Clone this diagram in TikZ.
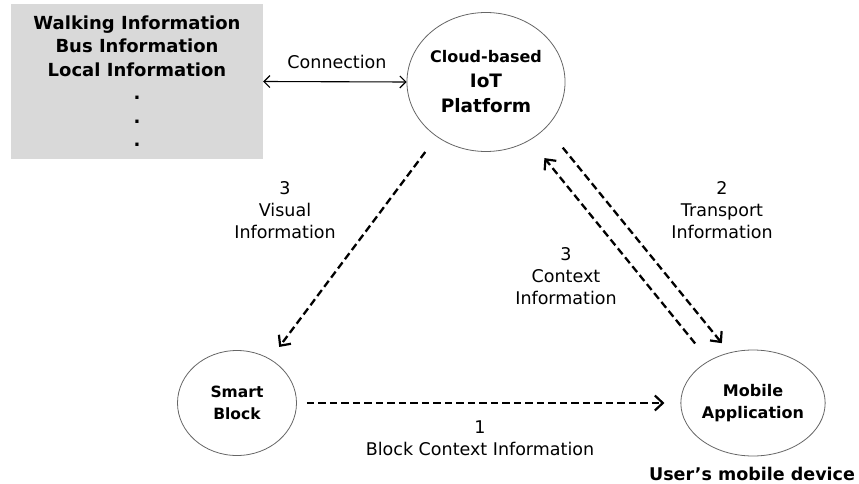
\documentclass[tikz,border=0pt]{standalone}
\usepackage{fontspec}
\setmainfont{DejaVu Sans}
\usetikzlibrary{shapes.geometric,arrows.meta}
\begin{document}
\begin{tikzpicture}[x=1pt,y=-1pt,
  bub/.style={ellipse,draw=black!60,line width=0.8pt,inner sep=0pt,align=center,
    font=\bfseries\fontsize{16}{21.5}\selectfont},
  flow/.style={line width=2.3pt,dash pattern=on 7.5pt off 4pt,
    -{Straight Barb[length=8pt,width=15pt,line width=2.2pt]}},
  lab/.style={align=center,font=\fontsize{17.5}{22}\selectfont},
  info/.style={fill=black!15,draw=none,inner sep=0pt,minimum width=252pt,minimum height=155pt}]
\useasboundingbox (0,0) rectangle (859,484);
% info box
\node[info] (box) at (137,81.5) {};
\node[anchor=north,align=center,inner sep=0pt,font=\bfseries\fontsize{18}{23.5}\selectfont]
  (boxtext) at (137,15.5) {Walking Information\\Bus Information\\Local Information\\.\\.\\.};
% bubbles
\node[bub,minimum width=154pt,minimum height=139pt,font=\bfseries\fontsize{18.5}{25}\selectfont] (cloud) at (486,82)
  {{\fontsize{16}{25}\selectfont Cloud-based}\\IoT\\Platform};
\node[bub,minimum width=119pt,minimum height=105pt,font=\bfseries\fontsize{15.5}{21.5}\selectfont] (smart) at (237,403) {Smart\\Block};
\node[bub,minimum width=118pt,minimum height=106pt] (mobile) at (753,403) {Mobile\\Application};
\node[font=\bfseries\fontsize{17.5}{20}\selectfont,inner sep=0pt] (dev) at (752,474) {User’s mobile device};
% connection
\draw[line width=1.1pt,{Straight Barb[length=6pt,width=12pt]}-{Straight Barb[length=6pt,width=12pt]}]
  (box.east) -- (cloud.west);
\node[lab] (conn) at (337,62) {Connection};
% flows
\draw[flow,shorten <=19pt,shorten >=15pt] (cloud.228) -- (smart.53);
\draw[flow,shorten <=26pt,shorten >=12pt] (cloud.323) -- (mobile.115);
\draw[flow,shorten <=22pt,shorten >=23pt] (mobile.136) -- (cloud.307);
\draw[flow,shorten <=10pt,shorten >=16pt] (smart.east) -- (mobile.west);
% labels
\node[lab] (lv) at (285,210) {3\\Visual\\Information};
\node[lab] (lt) at (722,210.5) {2\\Transport\\Information};
\node[lab] (lc) at (566,276.5) {3\\Context\\Information};
\node[lab] (lb) at (480,438.5) {1\\Block Context Information};
\end{tikzpicture}
\end{document}
